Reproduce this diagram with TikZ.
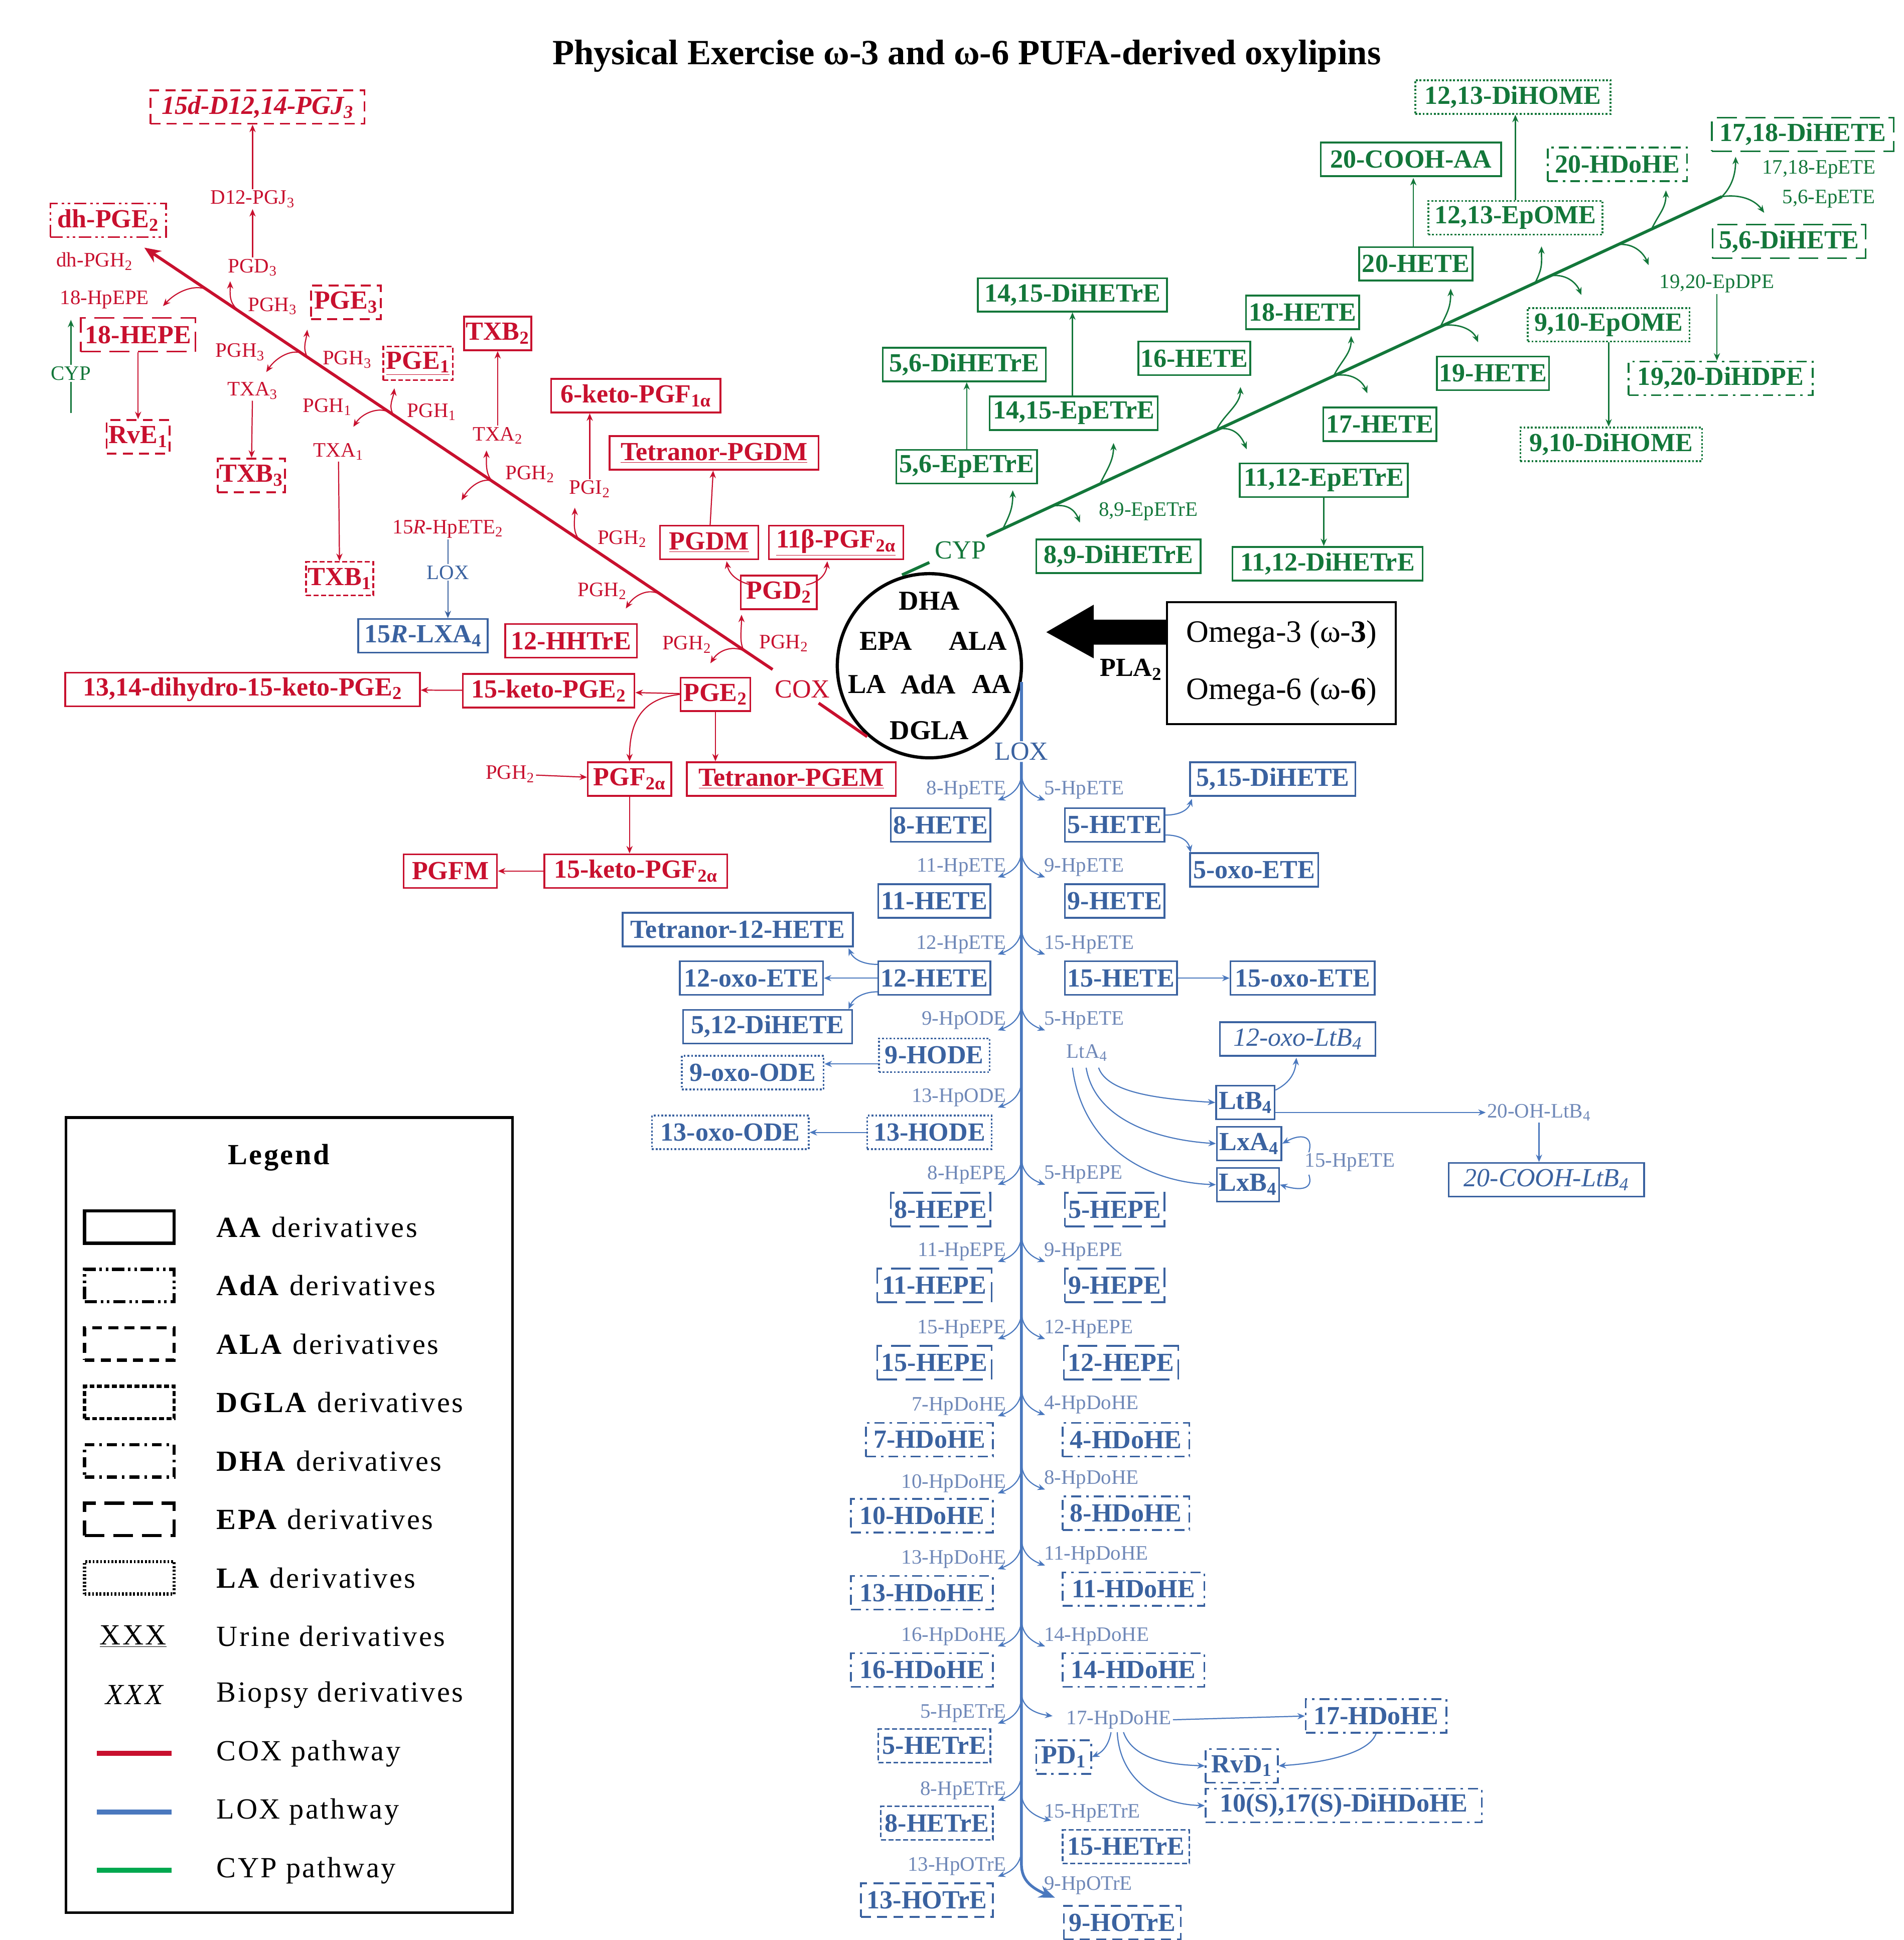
\documentclass[tikz,border=0pt]{standalone}
\usepackage{fontspec}
\setmainfont{Liberation Serif}
\newfontfamily\legfont[LetterSpace=6]{Liberation Serif}
\usetikzlibrary{arrows.meta}
\definecolor{cred}{HTML}{C8102E}
\definecolor{cblue}{HTML}{3A62A0}
\definecolor{blab}{HTML}{6F88B8}
\definecolor{lblue}{HTML}{4A78BE}
\definecolor{cgreen}{HTML}{13773A}
\definecolor{lgreen}{HTML}{00A84F}
\newcommand\sub[1]{\textsubscript{#1}}
\newcommand\rcur[8]{\draw[rarr] (#1,#2) .. controls (#3,#4) and (#5,#6) .. (#7,#8);}
\newcommand\gup[4]{\draw[garr] (#1,#2) .. controls (#1+6,#2-12) and (#3,#4+14) .. (#3,#4);}
\newcommand\gdn[4]{\draw[garr] (#1,#2) .. controls (#1+14,#2-3) and (#3-4,#4-10) .. (#3,#4);}
\newcommand\lbrl[1]{\draw[barr] (821,#1-14) .. controls (821,#1-2) and (813,#1+4) .. (802,#1+8);}
\newcommand\lbrr[1]{\draw[barr] (821,#1-14) .. controls (821,#1-2) and (829,#1+4) .. (840,#1+8);}
\begin{document}
\begin{tikzpicture}[x=1pt,y=-1pt,
  box/.style={draw, line width=1.4pt, inner xsep=1.5pt, inner ysep=0pt, minimum height=27pt, font=\fontsize{21}{23}\selectfont\bfseries},
  rb/.style={box, draw=cred, text=cred},
  bb/.style={box, draw=cblue, text=cblue},
  gb/.style={box, draw=cgreen, text=cgreen},
  aa/.style={solid},
  ada/.style={dash pattern=on 10pt off 3pt on 2pt off 3pt on 2pt off 3pt},
  ala/.style={dash pattern=on 8pt off 5pt},
  dgla/.style={dash pattern=on 4pt off 2pt},
  dha/.style={dash pattern=on 8pt off 4pt on 2pt off 4pt},
  epa/.style={dash pattern=on 16pt off 7pt},
  la/.style={dash pattern=on 1.5pt off 1.5pt},
  lab/.style={font=\fontsize{16.5}{18}\selectfont, inner sep=1pt},
  rl/.style={lab, text=cred},
  bl/.style={lab, text=blab},
  gl/.style={lab, text=cgreen},
  tip/.style={-{Stealth[length=6pt,width=5pt]}},
  rarr/.style={tip, draw=cred, line width=0.9pt},
  barr/.style={tip, draw=lblue, line width=0.9pt},
  garr/.style={tip, draw=cgreen, line width=1.1pt},
  legs/.style={draw, line width=2.6pt, minimum width=72pt, minimum height=26pt, inner sep=0pt},
  legt/.style={anchor=west, font=\fontsize{23.5}{25}\legfont, inner sep=0pt},
]
\useasboundingbox (0,0) rectangle (1530,1559);
\node[font=\fontsize{28.5}{31}\selectfont\bfseries] (title) at (777,45) {Physical Exercise ω-3 and ω-6 PUFA-derived oxylipins};

% ---------- centre ----------
\node[circle, draw, line width=2.6pt, minimum size=148pt, inner sep=0pt] (pufa) at (747,535) {};
\begin{scope}[every node/.style={font=\fontsize{22}{24}\selectfont\bfseries}]
\node (dha) at (747,483) {DHA};
\node (epa) at (712,515) {EPA};
\node (ala) at (786,515) {ALA};
\node (la) at (697,550) {LA};
\node (ada) at (746,550) {AdA};
\node (aa) at (797,550) {AA};
\node (dgla) at (747,587) {DGLA};
\end{scope}
\node[draw, line width=1.6pt, minimum width=184pt, minimum height=98pt, align=left, font=\fontsize{25}{46}\selectfont] (omega) at (1030,533) {Omega-3 (ω-\textbf{3})\\Omega-6 (ω-\textbf{6})};
\fill (omega.west |- 0,498) -- (879,498) -- (879,486) -- (841,508) -- (879,529) -- (879,518) -- (omega.west |- 0,518) -- cycle;
\node[font=\fontsize{21}{23}\selectfont\bfseries] (pla) at (909,538) {PLA\sub{2}};

% ---------- COX ----------
\node[font=\fontsize{21}{23}\selectfont, text=cred, inner sep=1pt] (cox) at (645,554) {COX};
\draw[cred, line width=2.4pt] (658,565) -- (697,592);
\draw[cred, line width=2.4pt, -{Stealth[length=13pt,width=11pt]}] (621,538) -- (116,199);

\node[rb,ala,minimum width=172pt] (pgj3) at (207,86) {\textit{15d-D12,14-PGJ\sub{3}}};
\node[rb,ada,minimum width=93pt] (dhpge) at (87,177) {dh-PGE\sub{2}};
\node[rb,epa,minimum width=92pt] (hepe18) at (111,269) {18-HEPE};
\node[rb,ala,minimum width=50pt] (rve1) at (111,351) {RvE\sub{1}};
\node[rb,ala,minimum width=56pt] (pge3) at (278,243) {PGE\sub{3}};
\node[rb,dgla,minimum width=56pt] (pge1) at (336,292) {\underline{PGE\sub{1}}};
\node[rb,ala,minimum width=54pt] (txb3) at (202,382) {TXB\sub{3}};
\node[rb,dgla,minimum width=54pt] (txb1) at (273,465) {TXB\sub{1}};
\node[rb,aa,minimum width=54pt] (txb2) at (400,268) {TXB\sub{2}};
\node[bb,aa,minimum width=104pt] (lxa15) at (340,511) {15\textit{R}-LXA\sub{4}};
\node[rb,aa,minimum width=136pt] (keto6) at (511,318) {6-keto-PGF\sub{1α}};
\node[rb,aa,minimum width=168pt] (tpgdm) at (574,364) {\underline{Tetranor-PGDM}};
\node[rb,aa,minimum width=79pt] (pgdm) at (570,436) {\underline{PGDM}};
\node[rb,aa,minimum width=108pt] (pgf11) at (672,436) {\underline{11β-PGF\sub{2α}}};
\node[rb,aa,minimum width=61pt] (pgd2) at (626,476) {PGD\sub{2}};
\node[rb,aa,minimum width=106pt] (hhtre) at (459,515) {12-HHTrE};
\node[rb,aa,minimum width=56pt] (pge2) at (575,558) {PGE\sub{2}};
\node[rb,aa,minimum width=138pt] (ketope2) at (441,555) {15-keto-PGE\sub{2}};
\node[rb,aa,minimum width=285pt] (dihydro) at (195,554) {13,14-dihydro-15-keto-PGE\sub{2}};
\node[rb,aa,minimum width=67pt] (pgf2a) at (506,626) {PGF\sub{2α}};
\node[rb,aa,minimum width=168pt] (tpgem) at (636,626) {\underline{Tetranor-PGEM}};
\node[rb,aa,minimum width=147pt] (ketopgf) at (511,700) {15-keto-PGF\sub{2α}};
\node[rb,aa,minimum width=75pt] (pgfm) at (362,700) {PGFM};

\node[rl] (ldhpgh) at (76,210) {dh-PGH\sub{2}};
\node[rl] (l18) at (84,241) {18-HpEPE};
\node[rl] (lpgd3) at (203,215) {PGD\sub{3}};
\node[rl] (ld12) at (203,160) {D12-PGJ\sub{3}};
\node[rl] (lpgh3a) at (219,246) {PGH\sub{3}};
\node[rl] (lpgh3b) at (193,283) {PGH\sub{3}};
\node[rl] (lpgh3c) at (279,289) {PGH\sub{3}};
\node[rl] (ltxa3) at (203,314) {TXA\sub{3}};
\node[rl] (lpgh1a) at (263,327) {PGH\sub{1}};
\node[rl] (lpgh1b) at (347,331) {PGH\sub{1}};
\node[rl] (ltxa1) at (272,363) {TXA\sub{1}};
\node[rl] (ltxa2) at (400,350) {TXA\sub{2}};
\node[rl] (lpgh2a) at (426,381) {PGH\sub{2}};
\node[rl] (l15r) at (360,425) {15\textit{R}-HpETE\sub{2}};
\node[lab, text=cblue] (llox2) at (360,460) {LOX};
\node[rl] (lpgi2) at (474,393) {PGI\sub{2}};
\node[rl] (lpgh2b) at (500,433) {PGH\sub{2}};
\node[rl] (lpgh2c) at (484,475) {PGH\sub{2}};
\node[rl] (lpgh2d) at (552,518) {PGH\sub{2}};
\node[rl] (lpgh2e) at (630,517) {PGH\sub{2}};
\node[rl] (lpgh2f) at (410,622) {PGH\sub{2}};
\node[gl] (lcyp1) at (57,300) {CYP};

\draw[rarr] (ld12) -- (ld12 |- pgj3.south);
\draw[rarr] (lpgd3) -- (ld12);
\draw[rarr] (hepe18) -- (rve1);
\draw[rarr] (ltxa3) -- (txb3);
\draw[rarr] (ltxa1) -- (txb1);
\draw[rarr] (ltxa2) -- (txb2);
\draw[cblue, line width=0.9pt] (l15r) -- (llox2);
\draw[tip, draw=cblue, line width=0.9pt] (llox2) -- (llox2 |- lxa15.north);
\draw[rarr] (lpgi2) -- (keto6.south -| lpgi2);
\draw[rarr] (pgdm) -- (tpgdm);
\draw[rarr] (604,470) .. controls (594,468) and (586,462) .. (584,451);
\draw[rarr] (648,470) .. controls (658,468) and (664,462) .. (665,451);
\draw[rarr] (pge2) -- (ketope2);
\draw[rarr] (ketope2) -- (dihydro);
\draw[rarr] (pge2.south) -- (pge2.south |- tpgem.north);
\draw[rarr] (pge2.west) .. controls (520,561) and (506,575) .. (pgf2a.north);
\draw[rarr] (lpgh2f) -- (pgf2a);
\draw[rarr] (pgf2a.south) -- (pgf2a.south |- ketopgf.north);
\draw[rarr] (ketopgf) -- (pgfm);
\draw[cgreen, line width=1.1pt] (57,332) -- (lcyp1.south);
\draw[garr] (lcyp1.north) -- (57,257);

\rcur{169}{234}{158}{227}{142}{234}{131}{246}
\rcur{190}{248}{184}{242}{185}{236}{185}{226}
\rcur{245}{285}{236}{279}{222}{287}{214}{299}
\rcur{247}{287}{243}{279}{246}{274}{247}{265}
\rcur{314}{332}{305}{326}{291}{332}{284}{343}
\rcur{316}{333}{312}{326}{316}{320}{317}{312}
\rcur{396}{387}{390}{381}{391}{372}{391}{362}
\rcur{398}{388}{390}{382}{378}{390}{371}{402}
\rcur{465}{433}{460}{426}{462}{418}{462}{408}
\rcur{531}{478}{522}{472}{510}{478}{503}{489}
\rcur{598}{523}{594}{516}{596}{506}{596}{494}
\rcur{600}{524}{590}{518}{578}{522}{571}{533}

% ---------- CYP ----------
\node[font=\fontsize{21}{23}\selectfont, text=cgreen, inner sep=1pt] (cyp) at (772,442) {CYP};
\draw[cgreen, line width=2.4pt] (725,462) -- (747,452);
\draw[cgreen, line width=2.4pt] (793,431) -- (1384,158);
\draw[garr] (1384,158) .. controls (1392,150) and (1395,140) .. (1395,126);
\draw[garr] (1384,158) .. controls (1398,156) and (1410,160) .. (1418,171);
\gup{806}{425}{814}{394}
\gdn{844}{407}{868}{420}
\gup{884}{389}{895}{356}
\gup{978}{345}{997}{311}
\gdn{978}{345}{1002}{361}
\gup{1072}{302}{1086}{270}
\gdn{1072}{302}{1099}{316}
\gup{1158}{262}{1166}{232}
\gdn{1158}{262}{1188}{275}
\gup{1234}{227}{1239}{198}
\gdn{1244}{222}{1271}{237}
\gdn{1298}{197}{1325}{213}
\gup{1328}{183}{1339}{153}

\node[gb,la,minimum width=157pt] (dihome1213) at (1216,78) {12,13-DiHOME};
\node[gb,aa,minimum width=145pt] (cooh20aa) at (1134,128) {20-COOH-AA};
\node[gb,dha,minimum width=112pt] (hdohe20) at (1300,132) {20-HDoHE};
\node[gb,epa,minimum width=146pt] (dihete1718) at (1449,108) {17,18-DiHETE};
\node[gb,epa,minimum width=123pt] (dihete56) at (1438,194) {5,6-DiHETE};
\node[gb,la,minimum width=140pt] (epome1213) at (1218,175) {12,13-EpOME};
\node[gb,aa,minimum width=91pt] (hete20) at (1138,212) {20-HETE};
\node[gb,aa,minimum width=152pt] (dihetre1415) at (862,237) {14,15-DiHETrE};
\node[gb,aa,minimum width=91pt] (hete18) at (1047,251) {18-HETE};
\node[gb,la,minimum width=130pt] (epome910) at (1293,261) {9,10-EpOME};
\node[gb,aa,minimum width=90pt] (hete16) at (960,288) {16-HETE};
\node[gb,aa,minimum width=131pt] (dihetre56) at (775,293) {5,6-DiHETrE};
\node[gb,aa,minimum width=90pt] (hete19) at (1200,300) {19-HETE};
\node[gb,dha,minimum width=148pt] (dihdpe) at (1383,304) {19,20-DiHDPE};
\node[gb,aa,minimum width=135pt] (epetre1415) at (863,332) {14,15-EpETrE};
\node[gb,aa,minimum width=91pt] (hete17) at (1109,341) {17-HETE};
\node[gb,la,minimum width=146pt] (dihome910) at (1295,357) {9,10-DiHOME};
\node[gb,aa,minimum width=113pt] (epetre56) at (777,375) {5,6-EpETrE};
\node[gb,aa,minimum width=135pt] (epetre1112) at (1064,386) {11,12-EpETrE};
\node[gb,aa,minimum width=132pt] (dihetre89) at (899,447) {8,9-DiHETrE};
\node[gb,aa,minimum width=153pt] (dihetre1112) at (1067,453) {11,12-DiHETrE};
\node[gl] (l89) at (923,411) {8,9-EpETrE};
\node[gl] (l1718) at (1462,136) {17,18-EpETE};
\node[gl] (l56) at (1470,160) {5,6-EpETE};
\node[gl] (l1920) at (1380,228) {19,20-EpDPE};

\draw[garr, line width=0.9pt] (epome1213.north) -- (epome1213.north |- dihome1213.south);
\draw[garr, line width=0.9pt] (hete20.north -| 1136,0) -- (1136,143);
\draw[garr, line width=0.9pt] (l1920) -- (l1920.south |- dihdpe.north);
\draw[garr, line width=0.9pt] (epome910.south) -- (epome910.south |- dihome910.north);
\draw[garr, line width=0.9pt] (epetre1415.north -| 862,0) -- (862,251);
\draw[garr, line width=0.9pt] (epetre56.north) -- (epetre56.north |- dihetre56.south);
\draw[garr, line width=0.9pt] (epetre1112.south) -- (epetre1112.south |- dihetre1112.north);

% ---------- LOX ----------
\node[font=\fontsize{21}{23}\selectfont, text=cblue, inner sep=1pt] (lox) at (821,604) {LOX};
\draw[lblue, line width=2.2pt] (821,548) -- (lox.north);
\draw[lblue, line width=2.2pt] (lox.south) -- (821,1498) .. controls (821,1512) and (830,1518) .. (845,1524);
\draw[lblue, -{Stealth[length=13pt,width=10pt]}, line width=2.2pt] (838,1521) -- (848,1525);

\begin{scope}[every node/.style={bl, anchor=east}]
\node (a1) at (810,635) {8-HpETE};
\node (a2) at (810,697) {11-HpETE};
\node (a3) at (810,759) {12-HpETE};
\node (a4) at (810,820) {9-HpODE};
\node (a5) at (810,882) {13-HpODE};
\node (a6) at (810,944) {8-HpEPE};
\node (a7) at (810,1006) {11-HpEPE};
\node (a8) at (810,1068) {15-HpEPE};
\node (a9) at (810,1130) {7-HpDoHE};
\node (a10) at (810,1192) {10-HpDoHE};
\node (a11) at (810,1253) {13-HpDoHE};
\node (a12) at (810,1315) {16-HpDoHE};
\node (a13) at (810,1377) {5-HpETrE};
\node (a14) at (810,1439) {8-HpETrE};
\node (a15) at (810,1500) {13-HpOTrE};
\end{scope}
\begin{scope}[every node/.style={bl, anchor=west}]
\node (b1) at (838,635) {5-HpETE};
\node (b2) at (838,697) {9-HpETE};
\node (b3) at (838,759) {15-HpETE};
\node (b4) at (838,820) {5-HpETE};
\node (b6) at (838,944) {5-HpEPE};
\node (b7) at (838,1006) {9-HpEPE};
\node (b8) at (838,1068) {12-HpEPE};
\node (b9) at (838,1129) {4-HpDoHE};
\node (b10) at (838,1189) {8-HpDoHE};
\node (b11) at (838,1250) {11-HpDoHE};
\node (b12) at (838,1315) {14-HpDoHE};
\node (b13) at (856,1382) {17-HpDoHE};
\node (b14) at (838,1457) {15-HpETrE};
\node (b15) at (838,1515) {9-HpOTrE};
\node (ltA) at (856,846) {LtA\sub{4}};
\end{scope}
\node[bl] (l15h) at (1085,934) {15-HpETE};
\node[bl] (l20oh) at (1237,894) {20-OH-LtB\sub{4}};

\foreach \L in {635,697,759,820,882,944,1006,1068,1130,1192,1253,1315,1377,1439,1500} {\lbrl{\L}}
\foreach \L in {635,697,759,820,944,1006,1068,1129,1189,1250,1315} {\lbrr{\L}}
\draw[barr] (821,1360) .. controls (821,1372) and (832,1377) .. (846,1379);
\draw[barr] (821,1441) .. controls (821,1453) and (832,1460) .. (845,1463);

\node[bb,aa,minimum width=80pt] (hete8) at (756,663) {8-HETE};
\node[bb,aa,minimum width=80pt] (hete5) at (896,663) {5-HETE};
\node[bb,aa,minimum width=133pt] (dihete515) at (1023,626) {5,15-DiHETE};
\node[bb,aa,minimum width=103pt] (oxoete5) at (1008,699) {5-oxo-ETE};
\node[bb,aa,minimum width=90pt] (hete11) at (751,724) {11-HETE};
\node[bb,aa,minimum width=80pt] (hete9) at (896,724) {9-HETE};
\node[bb,aa,minimum width=185pt] (tet12) at (593,747) {Tetranor-12-HETE};
\node[bb,aa,minimum width=90pt] (hete12) at (751,786) {12-HETE};
\node[bb,aa,minimum width=115pt] (oxo12) at (604,786) {12-oxo-ETE};
\node[bb,aa,minimum width=90pt] (hete15) at (901,786) {15-HETE};
\node[bb,aa,minimum width=116pt] (oxo15) at (1047,786) {15-oxo-ETE};
\node[bb,aa,minimum width=136pt] (dihete512) at (617,825) {5,12-DiHETE};
\node[bb,la,minimum width=89pt] (hode9) at (751,848) {9-HODE};
\node[bb,la,minimum width=114pt] (oxoode9) at (605,862) {9-oxo-ODE};
\node[bb,la,minimum width=100pt] (hode13) at (747,910) {13-HODE};
\node[bb,la,minimum width=126pt] (oxoode13) at (587,910) {13-oxo-ODE};
\node[bb,aa,minimum width=125pt,font=\fontsize{21}{23}\selectfont\itshape] (oxoltb4) at (1043,835) {12-oxo-LtB\sub{4}};
\node[bb,aa,minimum width=47pt] (ltb4) at (1001,886) {LtB\sub{4}};
\node[bb,aa,minimum width=52pt] (lxa4) at (1004,919) {LxA\sub{4}};
\node[bb,aa,minimum width=50pt] (lxb4) at (1003,952) {LxB\sub{4}};
\node[bb,aa,minimum width=157pt,font=\fontsize{21}{23}\selectfont\itshape] (cooh20) at (1243,948) {20-COOH-LtB\sub{4}};
\node[bb,epa,minimum width=80pt] (hepe8) at (756,972) {8-HEPE};
\node[bb,epa,minimum width=80pt] (hepe5) at (896,972) {5-HEPE};
\node[bb,epa,minimum width=92pt] (hepe11) at (751,1033) {11-HEPE};
\node[bb,epa,minimum width=80pt] (hepe9) at (896,1033) {9-HEPE};
\node[bb,epa,minimum width=92pt] (hepe15) at (751,1095) {15-HEPE};
\node[bb,epa,minimum width=92pt] (hepe12) at (901,1095) {12-HEPE};
\node[bb,dha,minimum width=102pt] (hdohe7) at (747,1157) {7-HDoHE};
\node[bb,dha,minimum width=102pt] (hdohe4) at (905,1157) {4-HDoHE};
\node[bb,dha,minimum width=114pt] (hdohe10) at (741,1218) {10-HDoHE};
\node[bb,dha,minimum width=102pt] (hdohe8) at (905,1216) {8-HDoHE};
\node[bb,dha,minimum width=114pt] (hdohe13) at (741,1280) {13-HDoHE};
\node[bb,dha,minimum width=114pt] (hdohe11) at (911,1277) {11-HDoHE};
\node[bb,dha,minimum width=114pt] (hdohe16) at (741,1342) {16-HDoHE};
\node[bb,dha,minimum width=114pt] (hdohe14) at (911,1342) {14-HDoHE};
\node[bb,dgla,minimum width=90pt] (hetre5) at (751,1403) {5-HETrE};
\node[bb,dha,minimum width=113pt] (hdohe17) at (1106,1379) {17-HDoHE};
\node[bb,dha,minimum width=44pt] (pd1) at (855,1412) {PD\sub{1}};
\node[bb,dha,minimum width=58pt] (rvd1) at (998,1419) {RvD\sub{1}};
\node[bb,dha,minimum width=222pt] (dihdohe) at (1080,1451) {10(S),17(S)-DiHDoHE};
\node[bb,dgla,minimum width=90pt] (hetre8) at (753,1465) {8-HETrE};
\node[bb,dgla,minimum width=102pt] (hetre15) at (905,1484) {15-HETrE};
\node[bb,ala,minimum width=106pt] (hotre13) at (745,1527) {13-HOTrE};
\node[bb,ala,minimum width=94pt] (hotre9) at (902,1545) {9-HOTrE};

\draw[barr] (hete5.east |- 0,655) .. controls (948,655) and (955,651) .. (958,642);
\draw[barr] (hete5.east |- 0,671) .. controls (948,671) and (955,675) .. (957,685);
\draw[barr] (hete12.west |- 0,775) .. controls (694,775) and (686,771) .. (682,762);
\draw[barr] (hete12) -- (oxo12);
\draw[barr] (hete12.west |- 0,797) .. controls (694,797) and (686,802) .. (682,811);
\draw[barr] (hete15) -- (oxo15);
\draw[barr] (hode9.west |- 0,855) -- (oxoode9.east |- 0,855);
\draw[barr] (hode13) -- (oxoode13);
\draw[barr] (883,858) .. controls (890,878) and (930,883) .. (ltb4.west);
\draw[barr] (873,858) .. controls (880,900) and (930,916) .. (lxa4.west);
\draw[barr] (862,858) .. controls (870,920) and (920,950) .. (lxb4.west);
\draw[barr] (ltb4.east |- 0,876) .. controls (1037,870) and (1041,862) .. (1042,850);
\draw[barr] (ltb4.east |- 0,894) -- (l20oh.west);
\draw[barr] (l20oh.south) -- (l20oh.south |- cooh20.north);
\draw[barr] (1052,926) .. controls (1056,912) and (1045,911) .. (lxa4.east);
\draw[barr] (1052,944) .. controls (1056,956) and (1045,957) .. (lxb4.east);
\draw[barr] (b13.east) -- (hdohe17.west);
\draw[barr] (893,1392) .. controls (891,1403) and (886,1408) .. (pd1.east);
\draw[barr] (903,1392) .. controls (910,1412) and (935,1418) .. (rvd1.west);
\draw[barr] (898,1392) .. controls (900,1430) and (930,1450) .. (dihdohe.west);
\draw[barr] (hdohe17.south) .. controls (1100,1410) and (1060,1417) .. (rvd1.east);

% ---------- legend ----------
\draw[line width=2.2pt] (53,898) rectangle (412,1537);
\node[font=\fontsize{23.5}{25}\legfont\bfseries] (legend) at (224,930) {Legend};
\node[legs,aa] (s1) at (104,986) {};
\node[legs,ada] (s2) at (104,1033) {};
\node[legs,ala] (s3) at (104,1080) {};
\node[legs,dgla] (s4) at (104,1127) {};
\node[legs,dha] (s5) at (104,1174) {};
\node[legs,epa] (s6) at (104,1221) {};
\node[legs,la] (s7) at (104,1268) {};
\node[font=\fontsize{23.5}{25}\legfont] (s8) at (107,1315) {\underline{XXX}};
\node[font=\fontsize{23.5}{25}\legfont\itshape] (s9) at (108,1362) {XXX};
\draw[cred, line width=4pt] (78,1409) -- (138,1409);
\draw[lblue, line width=4pt] (78,1456) -- (138,1456);
\draw[lgreen, line width=4pt] (78,1503) -- (138,1503);
\node[legt] (t1) at (174,986) {\textbf{AA} derivatives};
\node[legt] (t2) at (174,1033) {\textbf{AdA} derivatives};
\node[legt] (t3) at (174,1080) {\textbf{ALA} derivatives};
\node[legt] (t4) at (174,1127) {\textbf{DGLA} derivatives};
\node[legt] (t5) at (174,1174) {\textbf{DHA} derivatives};
\node[legt] (t6) at (174,1221) {\textbf{EPA} derivatives};
\node[legt] (t7) at (174,1268) {\textbf{LA} derivatives};
\node[legt] (t8) at (174,1315) {Urine derivatives};
\node[legt] (t9) at (174,1362) {Biopsy derivatives};
\node[legt] (t10) at (174,1409) {COX pathway};
\node[legt] (t11) at (174,1456) {LOX pathway};
\node[legt] (t12) at (174,1503) {CYP pathway};
\end{tikzpicture}
\end{document}
